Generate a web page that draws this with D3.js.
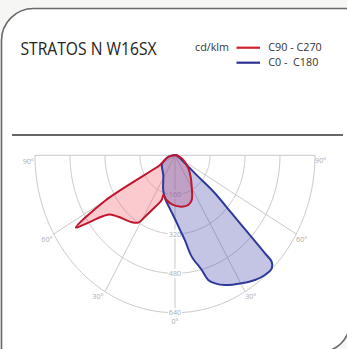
<!DOCTYPE html>
<html>
<head>
<meta charset="utf-8">
<script src="https://cdn.jsdelivr.net/npm/d3@7"></script>
<style>
  html, body { margin: 0; padding: 0; background: #f6f6f4; }
  svg { display: block; }
  text { font-family: "Open Sans", "Noto Sans", sans-serif; }
</style>
</head>
<body>
<svg id="chart" width="347" height="349"></svg>
<script>
// Photometric curves (cd/klm). Gamma in degrees, negative = left half-plane.
const redGamma = [-90, -78, -68, -62, -60, -60, -57, -56, -53, -51, -46, -37.3, -31.5, -28.8, -25, -18.5, -18.3, -12, -2.6, 8.3, 16.7, 22.8, 30.9, 40, 49, 63.3, 75, 90];
const redCd    = [5, 30, 50, 68, 79, 369, 540, 506, 410, 382, 360, 339, 321, 285, 242, 192, 170, 186, 202, 211, 211, 197, 149, 110, 81, 42, 20, 5];

const blueGamma = [-90, -79, -64, -57, -34, -21, -14.6, -6, 0, 4.3, 7.4, 10.5, 14.7, 16.7, 19.4, 23.4, 30.4, 35.8, 40.2, 43.9, 45.6, 45.9, 46.6, 47.7, 49.8, 50.8, 54.6, 63, 75, 90];
const blueCd    = [8, 31, 60, 72, 96, 151, 181, 219, 259, 304, 347, 419, 482, 529, 552, 575, 603, 625, 637, 638, 619, 573, 461, 350, 239, 137, 56, 25, 12, 8];

const ringValues = [160, 320, 480, 640];
const spokeAngles = [-90, -60, -30, 0, 30, 60, 90];
const angleLabels = ["90°", "60°", "30°", "0°", "30°", "60°", "90°"];

const seriesNames = ["C90 - C270", "C0 -  C180"];
const seriesColors = ["#c0162e", "#2e3a9a"];
const title = "STRATOS N W16SX";
const unitLabel = "cd/klm";

const svg = d3.select("#chart");
const rad = Math.PI / 180;
const cx = 175, cy = 155.3;

// The diagram is slightly taller than wide: separate radial scales per axis.
const rX = d3.scaleLinear().domain([0, 640]).range([0, 140]);
const rY = d3.scaleLinear().domain([0, 640]).range([0, 157.4]);
const px = (g, v) => cx + Math.sin(g * rad) * rX(v);
const py = (g, v) => cy + Math.cos(g * rad) * rY(v);

// Card frame
svg.append("path")
  .attr("d", "M1.5,360 L1.5,40.5 A32,32 0 0 1 33.5,8.5 L350,8.5 L350,322 A30,30 0 0 1 320,352 Z")
  .attr("fill", "#ffffff")
  .attr("stroke", "#6a6a6a")
  .attr("stroke-width", 1.6);

// Header
svg.append("text")
  .attr("x", 20.5).attr("y", 55)
  .attr("font-size", 18).attr("fill", "#222")
  .attr("textLength", 136).attr("lengthAdjust", "spacingAndGlyphs")
  .text(title);

svg.append("text")
  .attr("x", 195).attr("y", 51)
  .attr("font-size", 11).attr("fill", "#333")
  .attr("textLength", 34).attr("lengthAdjust", "spacingAndGlyphs")
  .text(unitLabel);

const legendY = [47.7, 62.7];
const legendLen = [53.4, 50];
seriesNames.forEach((name, i) => {
  svg.append("line")
    .attr("x1", 236.5).attr("x2", 260)
    .attr("y1", legendY[i]).attr("y2", legendY[i])
    .attr("stroke", i === 0 ? "#d3202f" : "#2e3192")
    .attr("stroke-width", 2.2);
  svg.append("text")
    .attr("x", 268.3).attr("y", legendY[i] + 3.6)
    .attr("font-size", 11).attr("fill", "#333")
    .attr("textLength", legendLen[i]).attr("lengthAdjust", "spacingAndGlyphs")
    .attr("xml:space", "preserve")
    .text(name);
});

// Separator
svg.append("line")
  .attr("x1", 12).attr("x2", 343).attr("y1", 135).attr("y2", 135)
  .attr("stroke", "#333").attr("stroke-width", 1.4);

// Polar grid
const grid = svg.append("g")
  .attr("fill", "none").attr("stroke", "#c9c9c9").attr("stroke-width", 1);

const gapX = 7; // room for ring labels on the 0° axis
ringValues.forEach(v => {
  const gStop = Math.asin(gapX / rX(v)) / rad;
  [[-90, -gStop], [gStop, 90]].forEach(([a, b]) => {
    const pts = d3.range(a, b, 1).concat([b]);
    grid.append("path")
      .attr("d", d3.line().x(g => px(g, v)).y(g => py(g, v))(pts));
  });
});

spokeAngles.forEach(g => {
  if (g === 0) {
    // vertical axis, broken around the ring labels
    let from = 0;
    ringValues.forEach(v => {
      grid.append("line")
        .attr("x1", px(0, from)).attr("y1", py(0, from) + (from ? 4.5 : 0))
        .attr("x2", px(0, v)).attr("y2", py(0, v) - 4.5);
      from = v;
    });
  } else {
    grid.append("line")
      .attr("x1", cx).attr("y1", cy)
      .attr("x2", px(g, 640)).attr("y2", py(g, 640));
  }
});

const labelG = svg.append("g")
  .attr("font-size", 7.2).attr("fill", "#adadad").attr("text-anchor", "middle");

ringValues.forEach(v => {
  labelG.append("text")
    .attr("x", px(0, v)).attr("y", py(0, v) + 2.6)
    .text(v);
});

const labelPos = {
  "-90": [28.3, 161.3], "-60": [47, 239], "-30": [98, 296],
  "0": [175, 321.7], "30": [250.8, 296], "60": [301.7, 239], "90": [320.7, 160.7]
};
spokeAngles.forEach((g, i) => {
  const p = labelPos[String(g)];
  labelG.append("text")
    .attr("x", p[0]).attr("y", p[1] + 2.6)
    .text(angleLabels[i]);
});

// Intensity curves
const curve = d3.line()
  .x(d => px(d.g, d.v))
  .y(d => py(d.g, d.v))
  .curve(d3.curveCatmullRomClosed.alpha(0.5));

const red = redGamma.map((g, i) => ({ g, v: redCd[i] }));
const blue = blueGamma.map((g, i) => ({ g, v: blueCd[i] }));

svg.append("path").attr("d", curve(red))
  .attr("fill", "rgb(240,95,105)").attr("fill-opacity", 0.33).attr("stroke", "none");
svg.append("path").attr("d", curve(blue))
  .attr("fill", "rgb(70,70,175)").attr("fill-opacity", 0.32).attr("stroke", "none");

svg.append("path").attr("d", curve(blue))
  .attr("fill", "none").attr("stroke", seriesColors[1]).attr("stroke-width", 2)
  .attr("stroke-linejoin", "round");
svg.append("path").attr("d", curve(red))
  .attr("fill", "none").attr("stroke", seriesColors[0]).attr("stroke-width", 2)
  .attr("stroke-linejoin", "round");
</script>
</body>
</html>
